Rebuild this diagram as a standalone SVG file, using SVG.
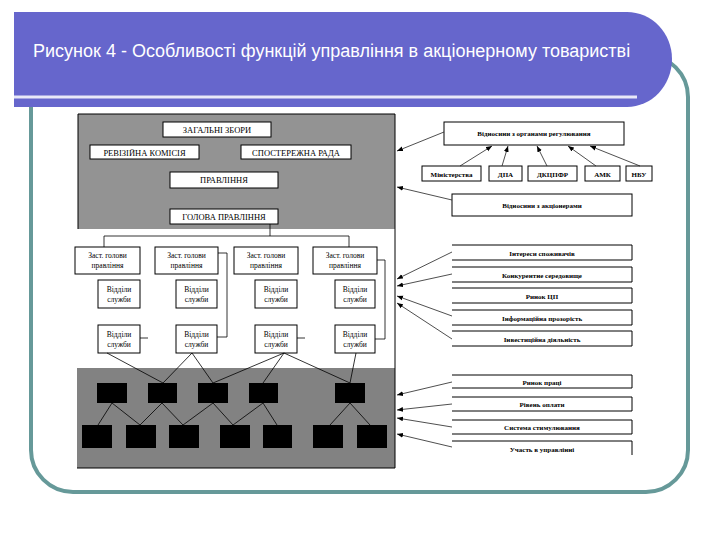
<svg xmlns="http://www.w3.org/2000/svg" width="720" height="540" viewBox="0 0 720 540">
<defs>
<marker id="ah" viewBox="0 0 10 10" refX="10" refY="5" markerWidth="6" markerHeight="6" orient="auto" markerUnits="userSpaceOnUse">
<path d="M0,1 L10,5 L0,9 Z" fill="#000"/>
</marker>
<style>
.box{fill:#fff;stroke:#000;stroke-width:1}
.open{fill:#fff;stroke:#000;stroke-width:1}
.blk{fill:#000}
.t{font-family:"Liberation Serif","DejaVu Serif",serif;font-size:8.5px;fill:#000;text-anchor:middle}
.s{font-family:"Liberation Serif","DejaVu Serif",serif;font-size:7.5px;fill:#000;text-anchor:middle}
.r{font-family:"Liberation Serif","DejaVu Serif",serif;font-size:7px;font-weight:bold;fill:#000;text-anchor:middle}
.ln{stroke:#000;stroke-width:0.8;fill:none}
.ar{stroke:#222;stroke-width:0.8;fill:none;marker-end:url(#ah)}
</style>
</defs>
<rect width="720" height="540" fill="#fff"/>
<!-- slide frame -->
<rect x="31" y="55" width="657" height="437" rx="42" ry="42" fill="none" stroke="#669999" stroke-width="4"/>
<path d="M14,12 H627 A45,47 0 0 1 672,59 A45,48 0 0 1 627,107 H14 Z" fill="#6666CC"/>
<line x1="14" y1="97" x2="637" y2="97" stroke="#e8e8f8" stroke-width="3"/>
<text x="33" y="57" font-family="Liberation Sans, Arial, sans-serif" font-size="18" fill="#fff">Рисунок 4 - Особливості функцій управління в акціонерному товаристві</text>

<!-- main panel backgrounds -->
<g id="panel">
<rect x="78" y="114" width="317" height="115" fill="#939393"/>
<rect x="77" y="368" width="318" height="100" fill="#828282"/>
<path d="M78,229 V114 H395 V468 H77" fill="none" stroke="#000" stroke-width="1"/>
</g>

<g id="zagalni"><rect class="box" x="163" y="122" width="108" height="15"/><text class="t" x="217" y="133">ЗАГАЛЬНІ ЗБОРИ</text></g>
<g id="reviziyna"><rect class="box" x="90" y="145" width="109" height="14"/><text class="t" x="144.5" y="155.5">РЕВІЗІЙНА КОМІСІЯ</text></g>
<g id="sposterezhna"><rect class="box" x="241" y="145" width="110" height="14"/><text class="t" x="296" y="155.5">СПОСТЕРЕЖНА РАДА</text></g>
<g id="pravlinnya"><rect class="box" x="170" y="172" width="108" height="16"/><text class="t" x="224" y="183">ПРАВЛІННЯ</text></g>
<g id="golova"><rect class="box" x="170" y="209" width="108" height="15"/><text class="t" x="224" y="220">ГОЛОВА ПРАВЛІННЯ</text></g>

<g id="zast1"><rect class="box" x="75" y="247" width="65" height="27"/><text class="s" x="107.5" y="258">Заст. голови</text><text class="s" x="107.5" y="268">правління</text></g>
<g id="zast2"><rect class="box" x="155" y="247" width="63" height="27"/><text class="s" x="186.5" y="258">Заст. голови</text><text class="s" x="186.5" y="268">правління</text></g>
<g id="zast3"><rect class="box" x="234" y="247" width="64" height="27"/><text class="s" x="266" y="258">Заст. голови</text><text class="s" x="266" y="268">правління</text></g>
<g id="zast4"><rect class="box" x="313" y="247" width="64" height="27"/><text class="s" x="345" y="258">Заст. голови</text><text class="s" x="345" y="268">правління</text></g>

<g id="vid1a"><rect class="box" x="98" y="280" width="42" height="28"/><text class="s" x="119" y="292">Відділи</text><text class="s" x="119" y="302">служби</text></g>
<g id="vid2a"><rect class="box" x="176" y="280" width="41" height="28"/><text class="s" x="196.5" y="292">Відділи</text><text class="s" x="196.5" y="302">служби</text></g>
<g id="vid3a"><rect class="box" x="255" y="280" width="42" height="28"/><text class="s" x="276" y="292">Відділи</text><text class="s" x="276" y="302">служби</text></g>
<g id="vid4a"><rect class="box" x="335" y="280" width="40" height="28"/><text class="s" x="355" y="292">Відділи</text><text class="s" x="355" y="302">служби</text></g>
<g id="vid1b"><rect class="box" x="98" y="325" width="42" height="28"/><text class="s" x="119" y="337">Відділи</text><text class="s" x="119" y="347">служби</text></g>
<g id="vid2b"><rect class="box" x="176" y="325" width="41" height="28"/><text class="s" x="196.5" y="337">Відділи</text><text class="s" x="196.5" y="347">служби</text></g>
<g id="vid3b"><rect class="box" x="255" y="325" width="42" height="28"/><text class="s" x="276" y="337">Відділи</text><text class="s" x="276" y="347">служби</text></g>
<g id="vid4b"><rect class="box" x="335" y="325" width="40" height="28"/><text class="s" x="355" y="337">Відділи</text><text class="s" x="355" y="347">служби</text></g>

<g id="units-row1">
<rect class="blk" x="97" y="383" width="30" height="20"/>
<rect class="blk" x="148" y="383" width="29" height="20"/>
<rect class="blk" x="198" y="383" width="30" height="20"/>
<rect class="blk" x="249" y="383" width="29" height="20"/>
<rect class="blk" x="335" y="383" width="30" height="20"/>
</g>
<g id="units-row2">
<rect class="blk" x="82" y="425" width="30" height="23"/>
<rect class="blk" x="126" y="425" width="30" height="23"/>
<rect class="blk" x="169" y="425" width="30" height="23"/>
<rect class="blk" x="220" y="425" width="30" height="23"/>
<rect class="blk" x="263" y="425" width="29" height="23"/>
<rect class="blk" x="313" y="425" width="30" height="23"/>
<rect class="blk" x="357" y="425" width="30" height="23"/>
</g>

<g id="reg"><rect class="box" x="444" y="122" width="180" height="23"/><text class="r" x="534" y="136">Відносини з органами регулювання</text></g>
<g id="min"><rect class="box" x="422" y="166" width="59" height="15"/><text class="r" x="451.5" y="176.5">Міністерства</text></g>
<g id="dpa"><rect class="box" x="489" y="166" width="33" height="15"/><text class="r" x="505.5" y="176.5">ДПА</text></g>
<g id="dkcpfr"><rect class="box" x="528" y="166" width="49" height="15"/><text class="r" x="552.5" y="176.5">ДКЦПФР</text></g>
<g id="amk"><rect class="box" x="585" y="166" width="35" height="15"/><text class="r" x="602.5" y="176.5">АМК</text></g>
<g id="nbu"><rect class="box" x="626" y="166" width="26" height="15"/><text class="r" x="639" y="176.5">НБУ</text></g>
<g id="akc"><rect class="box" x="452" y="194" width="180" height="22"/><text class="r" x="542" y="207.5">Відносини з акціонерами</text></g>

<g id="inter"><path class="open" d="M452,245 H632 V260 H452"/><text class="r" x="542" y="255.5">Інтереси споживачів</text></g>
<g id="konk"><path class="open" d="M452,267 H632 V282 H452"/><text class="r" x="542" y="277.5">Конкурентне середовище</text></g>
<g id="rcp"><path class="open" d="M452,288 H632 V303 H452"/><text class="r" x="542" y="298.5">Ринок ЦП</text></g>
<g id="info"><path class="open" d="M452,310 H632 V325 H452"/><text class="r" x="542" y="320.5">Інформаційна прозорість</text></g>
<g id="inv"><path class="open" d="M452,331 H632 V346 H452"/><text class="r" x="542" y="341.5">Інвестиційна діяльність</text></g>

<g id="rpr"><path class="open" d="M452,375 H632 V388 H452"/><text class="r" x="542" y="384.5">Ринок праці</text></g>
<g id="ropl"><path class="open" d="M452,397 H632 V411 H452"/><text class="r" x="542" y="407">Рівень оплати</text></g>
<g id="stim"><path class="open" d="M452,420 H632 V434 H452"/><text class="r" x="542" y="430">Система стимулювання</text></g>
<g id="uch"><path class="open" d="M452,441 H632 V455"/><text class="r" x="542" y="451.5">Участь в управлінні</text></g>

<g id="connectors">
<polyline class="ln" points="104,247 104,236 349,236 349,247"/>
<line class="ln" x1="270" y1="224" x2="270" y2="236" stroke="#bbb"/>
<polyline class="ln" points="218,253 227,253 227,337 217,337"/>
<polyline class="ln" points="377,260 385,260 385,339 375,339"/>
<line class="ln" x1="140" y1="338" x2="148" y2="338"/>
<line class="ln" x1="297" y1="338" x2="305" y2="338"/>
<line class="ln" x1="107" y1="353" x2="163" y2="383"/>
<line class="ln" x1="192" y1="353" x2="163" y2="383"/>
<line class="ln" x1="192" y1="353" x2="213" y2="383"/>
<line class="ln" x1="284" y1="353" x2="213" y2="383"/>
<line class="ln" x1="284" y1="353" x2="263" y2="383"/>
<line class="ln" x1="284" y1="353" x2="350" y2="383"/>
<line class="ln" x1="356" y1="353" x2="350" y2="383"/>
<line class="ln" x1="112" y1="403" x2="98" y2="425"/>
<line class="ln" x1="112" y1="403" x2="140" y2="425"/>
<line class="ln" x1="162" y1="403" x2="140" y2="425"/>
<line class="ln" x1="162" y1="403" x2="183" y2="425"/>
<line class="ln" x1="213" y1="403" x2="183" y2="425"/>
<line class="ln" x1="213" y1="403" x2="233" y2="425"/>
<line class="ln" x1="263" y1="403" x2="233" y2="425"/>
<line class="ln" x1="263" y1="403" x2="277" y2="425"/>
<line class="ln" x1="350" y1="403" x2="330" y2="425"/>
<line class="ln" x1="350" y1="403" x2="370" y2="425"/>
<line class="ar" x1="444" y1="132" x2="397" y2="151"/>
<line class="ar" x1="452" y1="200" x2="397" y2="187"/>
<line class="ar" x1="460" y1="166" x2="492" y2="146"/>
<line class="ar" x1="502" y1="166" x2="508" y2="146"/>
<line class="ar" x1="547" y1="166" x2="537" y2="146"/>
<line class="ar" x1="596" y1="166" x2="568" y2="146"/>
<line class="ar" x1="640" y1="166" x2="590" y2="146"/>
<line class="ar" x1="452" y1="252" x2="397" y2="279"/>
<line class="ar" x1="452" y1="274" x2="397" y2="286"/>
<line class="ar" x1="452" y1="316" x2="397" y2="296"/>
<line class="ar" x1="452" y1="339" x2="397" y2="303"/>
<line class="ar" x1="452" y1="382" x2="397" y2="395"/>
<line class="ar" x1="452" y1="404" x2="397" y2="410"/>
<line class="ar" x1="452" y1="427" x2="397" y2="418"/>
<line class="ar" x1="452" y1="447" x2="397" y2="434"/>
</g>
</svg>
